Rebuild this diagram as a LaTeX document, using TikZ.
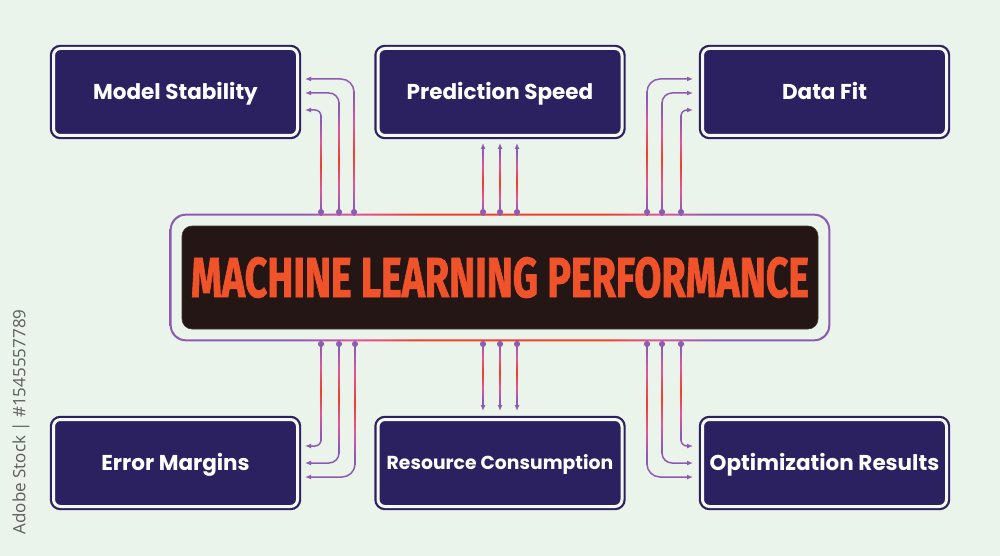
\documentclass[tikz,border=0pt]{standalone}
\usepackage{fontspec}
\setmainfont{Poppins}
\newfontfamily\titlefont[BoldFeatures={FakeBold=1.6}]{Fira Sans}
\newfontfamily\wmfont{Open Sans}
\usetikzlibrary{arrows.meta,calc}
\definecolor{bg}{HTML}{EAF4EA}
\definecolor{navy}{HTML}{2B2160}
\definecolor{gapwhite}{HTML}{F6F9F1}
\definecolor{brown}{HTML}{241614}
\definecolor{titleorange}{HTML}{F0522A}
\definecolor{lpurple}{HTML}{8F5BB2}
\definecolor{lpink}{HTML}{E0559C}
\definecolor{lred}{HTML}{F03F2A}
\definecolor{wmgray}{HTML}{5E5E5E}
\pgfdeclarehorizontalshading{ring}{100bp}{color(0bp)=(lpurple); color(35bp)=(lpurple); color(39bp)=(lpink); color(44bp)=(lred); color(58bp)=(lred); color(62bp)=(lpink); color(66bp)=(lpurple); color(100bp)=(lpurple)}
\pgfdeclareverticalshading{vline}{100bp}{color(0bp)=(lpurple); color(28bp)=(lpurple); color(38bp)=(lpink); color(50bp)=(lred); color(62bp)=(lpink); color(72bp)=(lpurple); color(100bp)=(lpurple)}
\tikzset{
  box/.style={draw=navy, line width=2.2pt, double=gapwhite, double distance=3pt,
    fill=navy, rounded corners=7pt, minimum width=244pt, minimum height=87pt,
    inner sep=0pt, outer sep=0pt, text=white, text height=15pt, text depth=0pt,
    font=\bfseries\fontsize{21.5}{24}\selectfont},
  conn/.style={draw=lpurple, line width=1.5pt, rounded corners=13pt,
    {Circle[length=6pt]}-{Latex[length=6pt,width=5pt]}},
  vgrad/.style={shading=vline}
}
\newcommand{\vgr}[2]{\shade[vgrad] ($(#1)+(-0.75,0)$) rectangle ($(#2)+(0.75,0)$);}
\begin{document}
\begin{tikzpicture}[x=1pt,y=-1pt]
\useasboundingbox[fill=bg] (0,0) rectangle (1000,556);

% boxes
\node[box] (ms) at (175.5,92) {Model Stability};
\node[box] (ps) at (500,92) {Prediction Speed};
\node[box] (df) at (824.5,92) {Data Fit};
\node[box] (em) at (175.5,463) {Error Margins};
\node[box, font=\bfseries\fontsize{18.8}{22}\selectfont, text height=13pt] (rc) at (500,463) {Resource Consumption};
\node[box] (or) at (824.5,463) {Optimization Results};

% central box
\node[fill=brown, draw=brown!70!gray, line width=0.6pt, rounded corners=10pt,
  minimum width=636pt, minimum height=103pt, inner sep=0pt] (mlp) at (500,277.5) {};
\shade[shading=ring, even odd rule]
  ($(mlp.north west)+(-12,-12)$) [rounded corners=16pt] rectangle ($(mlp.south east)+(12,12)$)
  ($(mlp.north west)+(-10,-10)$) [rounded corners=14pt] rectangle ($(mlp.south east)+(10,10)$);
\node[text=titleorange, inner sep=0pt] (title) at (mlp.center)
  {\resizebox{618pt}{40pt}{\titlefont\bfseries MACHINE LEARNING PERFORMANCE}};

% dot coordinates
\foreach \n/\x in {1/321,2/339,3/354,4/483,5/500,6/517,7/647,8/662,9/681}{
  \coordinate (t\n) at (\x,215);
}
\foreach \n/\x in {1/321,2/339,3/355,4/483,5/500,6/517,7/647,8/662,9/681}{
  \coordinate (b\n) at (\x,341);
}

% top-left
\draw[conn, rounded corners=6pt] (t1) |- ([xshift=7.5pt,yshift=-18pt]ms.east);
\draw[conn, rounded corners=10pt] (t2) |- ([xshift=7.5pt,yshift=-1pt]ms.east);
\draw[conn] (t3) |- ([xshift=7.5pt,yshift=13pt]ms.east);
\vgr{t1}{$(t1|-ms.east)+(0,24)$}
\vgr{t2}{$(t2|-ms.east)+(0,11)$}
\vgr{t3}{$(t3|-ms.east)+(0,0)$}
% top-middle
\foreach \n in {4,5,6}{
  \draw[conn] (t\n) -- ($(t\n|-ps.south)+(0,7.5)$);
  \vgr{t\n}{$(t\n|-ps.south)+(0,14)$}
}
% top-right
\draw[conn] (t7) |- ([xshift=-9.5pt,yshift=13pt]df.west);
\draw[conn, rounded corners=10pt] (t8) |- ([xshift=-9.5pt,yshift=-1pt]df.west);
\draw[conn, rounded corners=6pt] (t9) |- ([xshift=-9.5pt,yshift=-18pt]df.west);
\vgr{t7}{$(t7|-df.west)+(0,0)$}
\vgr{t8}{$(t8|-df.west)+(0,11)$}
\vgr{t9}{$(t9|-df.west)+(0,24)$}

% bottom-left
\draw[conn, rounded corners=6pt] (b1) |- ([xshift=7.5pt,yshift=17pt]em.east);
\draw[conn, rounded corners=10pt] (b2) |- ([xshift=7.5pt]em.east);
\draw[conn] (b3) |- ([xshift=7.5pt,yshift=-14pt]em.east);
\vgr{b1}{$(b1|-em.east)+(0,-23)$}
\vgr{b2}{$(b2|-em.east)+(0,-10)$}
\vgr{b3}{$(b3|-em.east)+(0,1)$}
% bottom-middle
\foreach \n in {4,5,6}{
  \draw[conn] (b\n) -- ($(b\n|-rc.north)+(0,-8.5)$);
  \vgr{b\n}{$(b\n|-rc.north)+(0,-15)$}
}
% bottom-right
\draw[conn] (b7) |- ([xshift=-9.5pt,yshift=-14pt]or.west);
\draw[conn, rounded corners=10pt] (b8) |- ([xshift=-9.5pt]or.west);
\draw[conn, rounded corners=6pt] (b9) |- ([xshift=-9.5pt,yshift=17pt]or.west);
\vgr{b7}{$(b7|-or.west)+(0,1)$}
\vgr{b8}{$(b8|-or.west)+(0,-10)$}
\vgr{b9}{$(b9|-or.west)+(0,-23)$}

% side text
\node[rotate=90, text=wmgray, font=\wmfont\fontsize{17}{20}\selectfont, inner sep=0pt] (wm) at (21,422) {Adobe Stock | \#1545557789};
\end{tikzpicture}
\end{document}
